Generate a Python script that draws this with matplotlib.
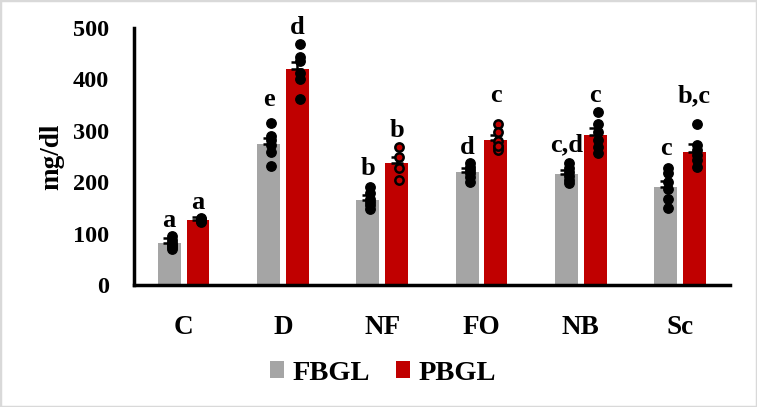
import matplotlib
matplotlib.use("Agg")
import matplotlib.pyplot as plt
import numpy as np
from matplotlib.patches import Rectangle

categories = ["C", "D", "NF", "FO", "NB", "Sc"]
fbgl_mean = [82, 274, 166, 220, 216, 191]
pbgl_mean = [126, 420, 237, 282, 292, 259]
fbgl_err = [10, 12, 10, 8, 7, 12]
pbgl_err = [6, 14, 12, 10, 13, 16]
fbgl_pts = [
    [95, 88, 82, 78, 74, 70],
    [315, 290, 282, 272, 259, 232],
    [190, 178, 168, 162, 155, 147],
    [237, 230, 224, 218, 210, 200],
    [238, 228, 220, 212, 205, 198],
    [228, 218, 200, 186, 168, 150],
]
pbgl_pts = [
    [130, 128, 126, 124, 122, 125],
    [469, 444, 436, 412, 400, 362],
    [269, 249, 228, 204],
    [313, 298, 280, 268, 262, 271],
    [337, 313, 298, 282, 269, 257],
    [313, 272, 263, 253, 243, 230],
]
pbgl_open = [False, False, True, True, False, False]
fbgl_letters = ["a", "e", "b", "d", "c,d", "c"]
pbgl_letters = ["a", "d", "b", "c", "c", "b,c"]
fbgl_label_y = [126, 360, 226, 267, 272, 265]
pbgl_label_y = [160, 502, 300, 368, 368, 368]

GRAY = "#A5A5A5"
RED = "#C00000"
FONT = "Liberation Serif"

fig = plt.figure(figsize=(7.57, 4.07), dpi=100)
ax = fig.add_axes([0.177, 0.300, 0.787, 0.631])

x = np.arange(len(categories))
w = 0.23
off = 0.145

ax.bar(x - off, fbgl_mean, w, color=GRAY, label="FBGL", zorder=1)
ax.bar(x + off, pbgl_mean, w, color=RED, label="PBGL", zorder=1)

for xi, m, e in zip(x - off, fbgl_mean, fbgl_err):
    ax.errorbar([xi], [m], yerr=[[0], [e]], fmt="none", ecolor="black",
                elinewidth=1.8, capsize=4, capthick=1.8, zorder=2)
for xi, m, e in zip(x + off, pbgl_mean, pbgl_err):
    ax.errorbar([xi], [m], yerr=[[0], [e]], fmt="none", ecolor="black",
                elinewidth=1.8, capsize=4, capthick=1.8, zorder=2)

dx = 0.025
for i, pts in enumerate(fbgl_pts):
    ax.scatter([x[i] - off + dx] * len(pts), pts, s=46, color="black",
               zorder=3, clip_on=False)
for i, pts in enumerate(pbgl_pts):
    if pbgl_open[i]:
        ax.scatter([x[i] + off + dx] * len(pts), pts, s=36, facecolor=RED,
                   edgecolor="black", linewidths=1.8, zorder=3, clip_on=False)
    else:
        ax.scatter([x[i] + off + dx] * len(pts), pts, s=46, color="black",
                   zorder=3, clip_on=False)

for i in range(len(categories)):
    ax.text(x[i] - off, fbgl_label_y[i], fbgl_letters[i], ha="center",
            va="center", fontsize=19, fontweight="bold", family=FONT,
            clip_on=False)
    ax.text(x[i] + off, pbgl_label_y[i], pbgl_letters[i], ha="center",
            va="center", fontsize=19, fontweight="bold", family=FONT,
            clip_on=False)

ax.set_xlim(-0.5, len(categories) - 0.5)
ax.set_ylim(0, 500)
ax.set_yticks([0, 100, 200, 300, 400, 500])
ax.set_xticks(x)
ax.set_xticklabels(categories)
for spine in ["top", "right"]:
    ax.spines[spine].set_visible(False)
for spine in ["left", "bottom"]:
    ax.spines[spine].set_linewidth(2.5)
    ax.spines[spine].set_color("black")
ax.tick_params(axis="both", length=0)
ax.tick_params(axis="y", pad=18)
ax.tick_params(axis="x", pad=22)
for lbl in ax.get_yticklabels():
    lbl.set_fontfamily(FONT); lbl.set_fontweight("bold"); lbl.set_fontsize(17.5)
for lbl in ax.get_xticklabels():
    lbl.set_fontfamily(FONT); lbl.set_fontweight("bold"); lbl.set_fontsize(19.5)
ax.set_ylabel("mg/dl", fontsize=19.5, fontweight="bold", family=FONT, labelpad=6)

leg = fig.legend(loc="center", bbox_to_anchor=(0.506, 0.083), ncol=2,
                 frameon=False, prop={"family": FONT, "weight": "bold", "size": 20.5},
                 handlelength=0.5, handleheight=0.5, handletextpad=0.3,
                 columnspacing=0.9)

fig.patches.append(Rectangle((0, 0), 1, 1, transform=fig.transFigure,
                             fill=False, edgecolor="#D9D9D9", linewidth=2.5))

fig.savefig("out.png", dpi=100)
